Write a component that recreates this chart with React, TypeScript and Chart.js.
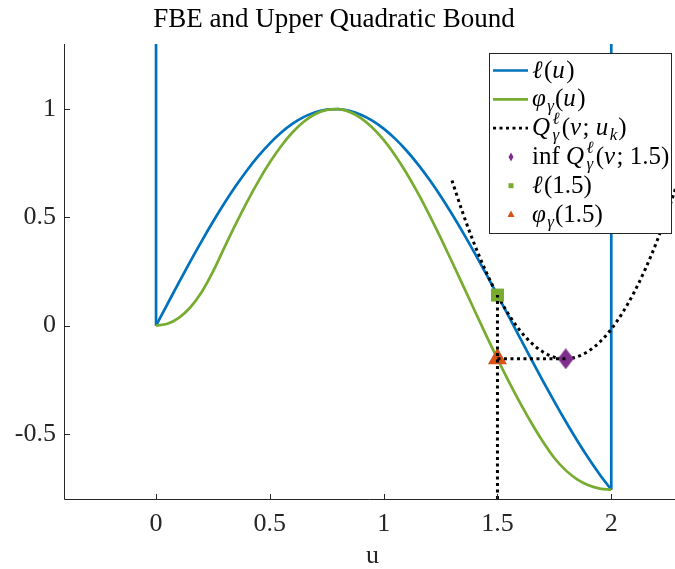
import React, { useEffect, useRef } from 'react';
import { Chart, registerables } from 'chart.js';

Chart.register(...registerables);

// ---------- data ----------
const uGrid = [0, 0.05, 0.1, 0.15, 0.2, 0.25, 0.3, 0.35, 0.4, 0.45, 0.5, 0.55, 0.6, 0.65, 0.7, 0.75, 0.8, 0.85, 0.9, 0.95, 1, 1.05, 1.1, 1.15, 1.2, 1.25, 1.3, 1.35, 1.4, 1.45, 1.5, 1.55, 1.6, 1.65, 1.7, 1.75, 1.8, 1.85, 1.9, 1.95, 2];
const ellValues = [0, 0.0998, 0.1987, 0.2955, 0.3894, 0.4794, 0.5646, 0.6442, 0.7174, 0.7833, 0.8415, 0.8912, 0.932, 0.9636, 0.9854, 0.9975, 0.9996, 0.9917, 0.9738, 0.9463, 0.9093, 0.8632, 0.8085, 0.7457, 0.6755, 0.5985, 0.5155, 0.4274, 0.335, 0.2392, 0.1411, 0.0416, -0.0584, -0.1577, -0.2555, -0.3508, -0.4425, -0.5298, -0.6119, -0.6878, -0.7568];
const phiValues = [0, 0.0087, 0.036, 0.0839, 0.1543, 0.2489, 0.3602, 0.4687, 0.5718, 0.6674, 0.7539, 0.8295, 0.8926, 0.9421, 0.9767, 0.996, 0.9993, 0.9867, 0.9583, 0.9149, 0.8573, 0.7868, 0.7046, 0.6125, 0.5124, 0.406, 0.2952, 0.1822, 0.0687, -0.0436, -0.1529, -0.2579, -0.3574, -0.4503, -0.5359, -0.6108, -0.6679, -0.7092, -0.7368, -0.7521, -0.7568];
const vGrid = [1.3, 1.35, 1.4, 1.45, 1.5, 1.55, 1.6, 1.65, 1.7, 1.75, 1.8, 1.85, 1.9, 1.95, 2, 2.05, 2.1, 2.15, 2.2, 2.25, 2.3];
const qValues = [0.6704, 0.5131, 0.3724, 0.2484, 0.1411, 0.0504, -0.0236, -0.0809, -0.1216, -0.1456, -0.1529, -0.1436, -0.1176, -0.0749, -0.0156, 0.0604, 0.1531, 0.2624, 0.3884, 0.5311, 0.6904];
const wallTop = 1.5; // indicator walls go off the top of the axes
const ukValue = 1.5;
const ellAtUk = 0.1411;
const phiAtUk = -0.1529;
const vStar = 1.8;
const infQ = -0.1529;
const xMin = -0.4;
const xMax = 2.28;
const yMin = -0.8;
const yMax = 1.3;
const xTickValues = [0, 0.5, 1, 1.5, 2];
const xTickLabels = ['0', '0.5', '1', '1.5', '2'];
const yTickValues = [-0.5, 0, 0.5, 1];
const yTickLabels = ['-0.5', '0', '0.5', '1'];
const titleText = 'FBE and Upper Quadratic Bound';
const xLabelText = 'u';

type Seg = [string, 'r' | 'i' | 'sub' | 'stack'];
const legendLabels: Seg[][] = [
  [['ℓ', 'i'], ['(', 'r'], ['u', 'i'], [')', 'r']],
  [['φ', 'i'], ['γ', 'sub'], ['(', 'r'], ['u', 'i'], [')', 'r']],
  [['Q', 'i'], ['ℓ|γ', 'stack'], ['(', 'r'], ['v', 'i'], ['; ', 'r'], ['u', 'i'], ['k', 'sub'], [')', 'r']],
  [['inf ', 'r'], ['Q', 'i'], ['ℓ|γ', 'stack'], ['(', 'r'], ['v', 'i'], ['; 1.5)', 'r']],
  [['ℓ', 'i'], ['(1.5)', 'r']],
  [['φ', 'i'], ['γ', 'sub'], ['(1.5)', 'r']],
];
const legendKinds = ['line', 'line', 'dotted', 'diamond', 'square', 'triangle'];

// ---------- style ----------
const BLUE = '#0072BD';
const GREEN = '#77AC30';
const PURPLE = '#7E2F8E';
const ORANGE = '#D95319';
const AXIS = '#262626';
const FAM = '"Liberation Serif", "DejaVu Serif", serif';
const LW = 2.7;
const DOT = [3, 3.5];
const legendColors = [BLUE, GREEN, '#000000', PURPLE, GREEN, ORANGE];

function makeDiamond(): HTMLCanvasElement {
  const c = document.createElement('canvas');
  c.width = 16;
  c.height = 21;
  const g = c.getContext('2d')!;
  g.fillStyle = PURPLE;
  g.beginPath();
  g.moveTo(8, 0);
  g.lineTo(16, 10.5);
  g.lineTo(8, 21);
  g.lineTo(0, 10.5);
  g.closePath();
  g.fill();
  return c;
}

function drawRich(ctx: CanvasRenderingContext2D, segs: Seg[], x0: number, y: number) {
  const MAIN = 25;
  const SMALL = 17;
  let x = x0;
  for (const [t, k] of segs) {
    if (k === 'stack') {
      const [sup, sub] = t.split('|');
      ctx.font = `italic ${SMALL}px ${FAM}`;
      const w = Math.max(ctx.measureText(sup).width, ctx.measureText(sub).width);
      ctx.fillText(sup, x + 1, y - 11);
      ctx.fillText(sub, x + 1, y + 5);
      x += w + 3;
    } else if (k === 'sub') {
      ctx.font = `italic ${SMALL}px ${FAM}`;
      ctx.fillText(t, x, y + 5);
      x += ctx.measureText(t).width + 1;
    } else {
      ctx.font = `${k === 'i' ? 'italic ' : ''}${MAIN}px ${FAM}`;
      ctx.fillText(t, x, y);
      x += ctx.measureText(t).width + (k === 'i' ? 1.5 : 0);
    }
  }
}

const decorPlugin = {
  id: 'decor',
  afterDraw(chart: any) {
    const ctx: CanvasRenderingContext2D = chart.ctx;
    const { left, right, top, bottom } = chart.chartArea;
    const xs = chart.scales.x;
    const ys = chart.scales.y;
    ctx.save();
    // axes (left + bottom) with inward ticks
    ctx.strokeStyle = AXIS;
    ctx.lineWidth = 1;
    ctx.setLineDash([]);
    ctx.beginPath();
    ctx.moveTo(left - 0.5, top);
    ctx.lineTo(left - 0.5, bottom + 0.5);
    ctx.lineTo(right, bottom + 0.5);
    for (const v of xTickValues) {
      const px = Math.round(xs.getPixelForValue(v)) + 0.5;
      ctx.moveTo(px, bottom);
      ctx.lineTo(px, bottom - 5);
    }
    for (const v of yTickValues) {
      const py = Math.round(ys.getPixelForValue(v)) + 0.5;
      ctx.moveTo(left, py);
      ctx.lineTo(left + 5, py);
    }
    ctx.stroke();

    // title and x label
    ctx.fillStyle = '#000';
    ctx.textAlign = 'center';
    ctx.textBaseline = 'alphabetic';
    ctx.font = `27px ${FAM}`;
    ctx.fillText(titleText, 334, 27);
    ctx.fillStyle = AXIS;
    ctx.font = `26px ${FAM}`;
    ctx.fillText(xLabelText, (left + 680) / 2, 563);

    // legend
    const bx = 489.5, by = 53.5, bw = 182, bh = 180;
    ctx.fillStyle = '#fff';
    ctx.fillRect(bx, by, bw, bh);
    ctx.strokeStyle = AXIS;
    ctx.lineWidth = 1;
    ctx.strokeRect(bx, by, bw, bh);
    ctx.textAlign = 'left';
    for (let i = 0; i < legendLabels.length; i++) {
      const cy = 70.5 + i * 28.8;
      const kind = legendKinds[i];
      const col = legendColors[i];
      ctx.fillStyle = col;
      ctx.strokeStyle = col;
      if (kind === 'line' || kind === 'dotted') {
        ctx.lineWidth = LW;
        ctx.setLineDash(kind === 'dotted' ? DOT : []);
        ctx.beginPath();
        ctx.moveTo(493, cy);
        ctx.lineTo(528, cy);
        ctx.stroke();
        ctx.setLineDash([]);
      } else if (kind === 'diamond') {
        ctx.beginPath();
        ctx.moveTo(511, cy - 4.5);
        ctx.lineTo(513.5, cy);
        ctx.lineTo(511, cy + 4.5);
        ctx.lineTo(508.5, cy);
        ctx.closePath();
        ctx.fill();
      } else if (kind === 'square') {
        ctx.fillRect(508.5, cy - 2.5, 5, 5);
      } else {
        ctx.beginPath();
        ctx.moveTo(511, cy - 4);
        ctx.lineTo(514.5, cy + 2.5);
        ctx.lineTo(507.5, cy + 2.5);
        ctx.closePath();
        ctx.fill();
      }
      ctx.fillStyle = '#000';
      drawRich(ctx, legendLabels[i], 532, cy + 7);
    }
    ctx.restore();
  },
};

export default function App() {
  const ref = useRef<HTMLCanvasElement | null>(null);
  useEffect(() => {
    if (!ref.current) return;
    const pts = (xsArr: number[], ysArr: number[]) => xsArr.map((x, i) => ({ x, y: ysArr[i] }));
    const lineDs = (data: any[], color: string, order: number, dotted = false, smooth = true) => ({
      data,
      showLine: true,
      borderColor: color,
      backgroundColor: color,
      borderWidth: dotted ? 3 : LW,
      borderDash: dotted ? DOT : [],
      borderCapStyle: 'butt',
      pointRadius: 0,
      cubicInterpolationMode: smooth ? 'monotone' : 'default',
      tension: 0,
      order,
    });
    const diamond = makeDiamond();
    const last = ellValues.length - 1;
    const chart = new Chart(ref.current, {
      type: 'scatter',
      data: {
        datasets: [
          lineDs(pts(uGrid, ellValues), BLUE, 20),
          lineDs([{ x: uGrid[0], y: ellValues[0] }, { x: uGrid[0], y: wallTop }], BLUE, 20, false, false),
          lineDs([{ x: uGrid[last], y: ellValues[last] }, { x: uGrid[last], y: wallTop }], BLUE, 20, false, false),
          lineDs(pts(uGrid, phiValues), GREEN, 15),
          lineDs(pts(vGrid, qValues), '#000000', 10, true),
          {
            data: [{ x: vStar, y: infQ }],
            pointStyle: diamond,
            pointRadius: 9,
            showLine: false,
            order: 6,
          },
          {
            data: [{ x: ukValue, y: ellAtUk }],
            pointStyle: 'rect',
            pointRadius: 9.2,
            backgroundColor: GREEN,
            borderColor: GREEN,
            borderWidth: 0,
            showLine: false,
            order: 5,
          },
          {
            data: [{ x: ukValue, y: phiAtUk }],
            pointStyle: 'triangle',
            pointRadius: 11,
            backgroundColor: ORANGE,
            borderColor: ORANGE,
            borderWidth: 0,
            showLine: false,
            order: 4,
          },
          lineDs([{ x: ukValue, y: yMin }, { x: ukValue, y: ellAtUk }], '#000000', 2, true, false),
          lineDs([{ x: ukValue, y: infQ }, { x: vStar, y: infQ }], '#000000', 2, true, false),
        ] as any,
      },
      options: {
        animation: false,
        responsive: false,
        events: [],
        layout: { autoPadding: false, padding: { top: 44, right: 0, left: 0, bottom: 0 } },
        plugins: { legend: { display: false }, tooltip: { enabled: false }, title: { display: false } },
        scales: {
          x: {
            type: 'linear',
            min: xMin,
            max: xMax,
            grid: { display: false, drawTicks: false },
            border: { display: false },
            afterFit: (s: any) => { s.height = 70; s.paddingLeft = 0; s.paddingRight = 0; },
            afterBuildTicks: (s: any) => { s.ticks = xTickValues.map((v) => ({ value: v })); },
            ticks: {
              font: { family: FAM, size: 26 },
              color: AXIS,
              padding: 10,
              maxRotation: 0,
              autoSkip: false,
              callback: (_v: any, i: number) => xTickLabels[i],
            },
          },
          y: {
            type: 'linear',
            min: yMin,
            max: yMax,
            grid: { display: false, drawTicks: false },
            border: { display: false },
            afterFit: (s: any) => { s.width = 65; s.paddingTop = 0; s.paddingBottom = 0; },
            afterBuildTicks: (s: any) => { s.ticks = yTickValues.map((v) => ({ value: v })); },
            ticks: {
              font: { family: FAM, size: 26 },
              color: AXIS,
              padding: 9,
              autoSkip: false,
              callback: (_v: any, i: number) => yTickLabels[i],
            },
          },
        },
      } as any,
      plugins: [decorPlugin],
    });
    return () => chart.destroy();
  }, []);
  return (
    <div style={{ position: 'fixed', left: 0, top: 0, width: 675, height: 569, background: '#fff' }}>
      <canvas ref={ref} width={675} height={569} style={{ width: 675, height: 569, display: 'block' }} />
    </div>
  );
}
